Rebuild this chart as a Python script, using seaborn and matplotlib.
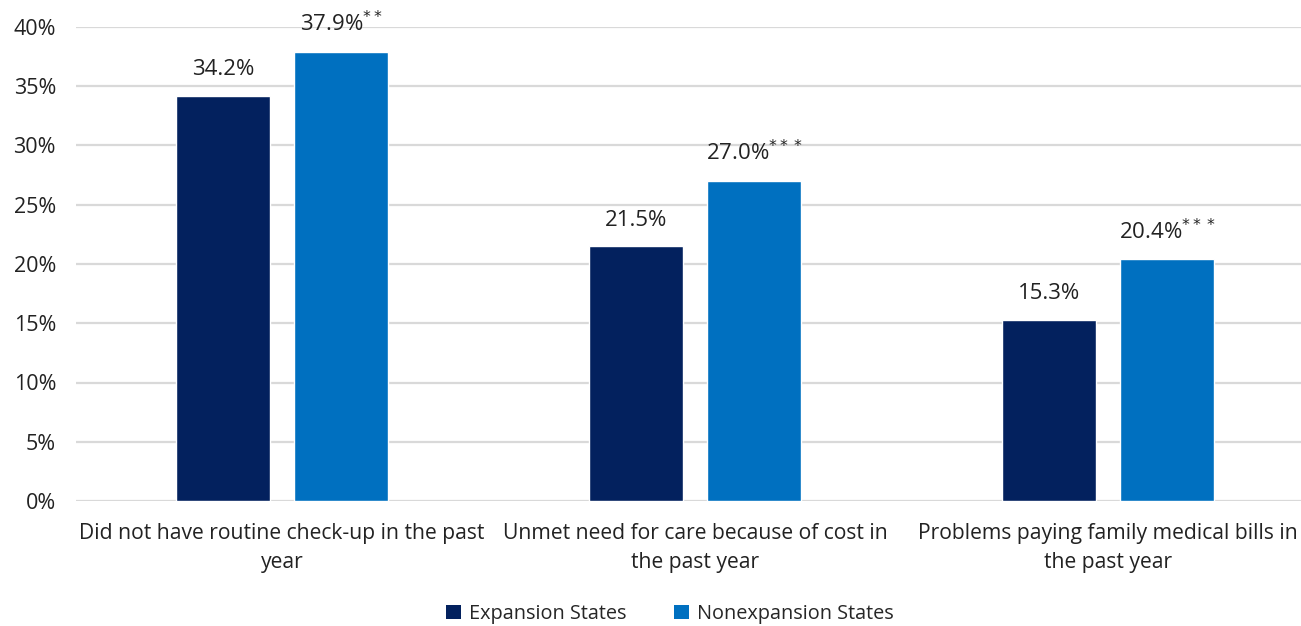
import matplotlib
matplotlib.use("Agg")
import matplotlib.pyplot as plt
import seaborn as sns
import pandas as pd
from matplotlib.patches import Patch

categories = [
    "Did not have routine check-up in the past\nyear",
    "Unmet need for care because of cost in\nthe past year",
    "Problems paying family medical bills in\nthe past year",
]
series_names = ["Expansion States", "Nonexpansion States"]
expansion = [34.2, 21.5, 15.3]
nonexpansion = [37.9, 27.0, 20.4]
significance = ["**", "***", "***"]
y_ticks = [0, 5, 10, 15, 20, 25, 30, 35, 40]
colors = ["#03215E", "#0070C0"]

df = pd.DataFrame({
    "category": categories * 2,
    "group": [series_names[0]] * 3 + [series_names[1]] * 3,
    "value": expansion + nonexpansion,
})

sns.set_theme(style="white")
plt.rcParams["font.family"] = ["Open Sans", "DejaVu Sans"]
plt.rcParams["mathtext.fontset"] = "dejavusans"

fig = plt.figure(figsize=(13.01, 6.26), dpi=100)
ax = fig.add_axes([75.5 / 1301, 1 - 501 / 626, (1314.5 - 75.5) / 1301, (501 - 27) / 626])

sns.barplot(data=df, x="category", y="value", hue="group", order=categories,
            hue_order=series_names, palette=colors, width=0.572, gap=0.21,
            saturation=1, legend=False, ax=ax, zorder=3)

ax.set_xlim(-0.5, 2.5)
ax.set_ylim(0, 40)
ax.set_yticks(y_ticks)
ax.set_yticklabels([f"{t}%" for t in y_ticks], fontsize=15.5, color="#222222")
ax.tick_params(axis="y", length=0, pad=14)
ax.tick_params(axis="x", length=0, pad=16)
ax.set_xticks(range(len(categories)))
ax.set_xticklabels(categories, fontsize=15.2, color="#222222", linespacing=1.5)
ax.set_xlabel("")
ax.set_ylabel("")
ax.grid(axis="y", color="#D9D9D9", linewidth=1.6, zorder=0)
for s in ax.spines.values():
    s.set_visible(False)

# value labels above each bar, with significance markers as superscripts
for container, vals, stars in zip(ax.containers, [expansion, nonexpansion],
                                  [[""] * 3, significance]):
    for bar, v, st in zip(container, vals, stars):
        label = f"{v:.1f}%" + (f"$^{{{st}}}$" if st else "")
        ax.text(bar.get_x() + bar.get_width() / 2, v + 1.3, label,
                ha="center", va="bottom", fontsize=16, color="#222222")

handles = [Patch(facecolor=c, edgecolor="none") for c in colors]
fig.legend(handles, series_names, loc="center", bbox_to_anchor=(670 / 1301, 1 - 614 / 626),
           ncol=2, frameon=False, fontsize=14.3, handlelength=0.75, handleheight=0.75,
           handletextpad=0.4, columnspacing=2.4)

fig.savefig("out.png", dpi=100)
